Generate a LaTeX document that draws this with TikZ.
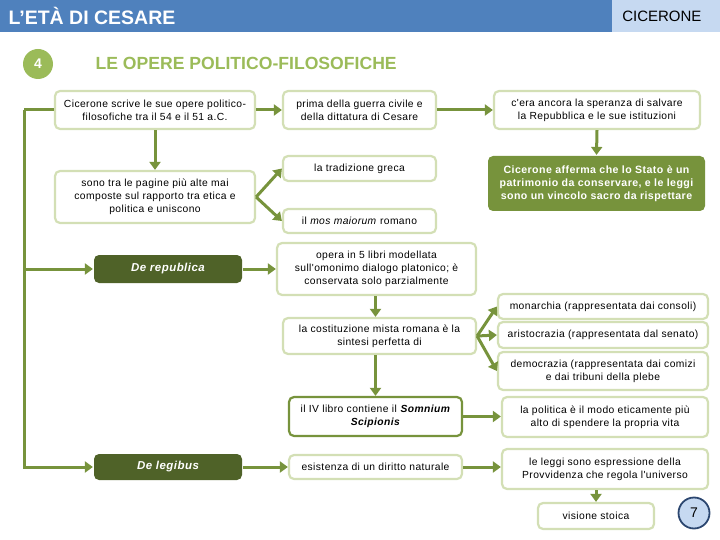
\documentclass[tikz,border=0pt]{standalone}
\usepackage{fontspec}
\setmainfont{Liberation Sans}
\newfontfamily\boxfont[LetterSpace=4]{Liberation Sans}
\usetikzlibrary{arrows.meta}
\definecolor{headblue}{HTML}{4F81BD}
\definecolor{headlight}{HTML}{C6D9F1}
\definecolor{titlegreen}{HTML}{9BBB59}
\definecolor{boxline}{HTML}{D3DFB5}
\definecolor{darkolive}{HTML}{4F6228}
\definecolor{olive}{HTML}{77933C}
\definecolor{navy}{HTML}{2C4770}

\tikzset{
  box/.style={draw=boxline,line width=2.2pt,rounded corners=5pt,fill=white,align=center,
    inner sep=2pt,font=\boxfont\fontsize{10.3}{13}\selectfont},
  strongbox/.style={box,draw=olive},
  darkbox/.style={box,draw=none,fill=darkolive,text=white,font=\boxfont\fontsize{11.5}{13}\selectfont\bfseries\itshape},
  greenbox/.style={box,draw=none,fill=olive,text=white,font=\boxfont\fontsize{10.6}{13}\selectfont\bfseries},
  link/.style={olive,line width=3pt,-{Triangle[length=8pt,width=11pt]}},
  bare/.style={olive,line width=3pt}
}

\begin{document}
\begin{tikzpicture}[x=1pt,y=-1pt]
  \useasboundingbox (0,0) rectangle (720,540);
  % header band
  \fill[headblue] (0,0) rectangle (612,32);
  \fill[headlight] (612,0) rectangle (720,32);
  \node[anchor=west,text=white,font=\fontsize{19.5}{19.5}\selectfont\bfseries] (era) at (5,16) {L’ETÀ DI CESARE};
  \node[anchor=east,font=\fontsize{15}{15}\selectfont] (autore) at (705,16) {CICERONE};
  \node[circle,fill=titlegreen,text=white,minimum size=30pt,inner sep=0pt,font=\fontsize{14}{14}\selectfont\bfseries] (num) at (38,64) {4};
  \node[anchor=west,text=titlegreen,font=\fontsize{17.6}{17.6}\selectfont\bfseries] (titolo) at (92,63) {LE OPERE POLITICO-FILOSOFICHE};

  % first column
  \node[box,minimum width=200pt,minimum height=38pt] (scrive) at (155,110) {Cicerone scrive le sue opere politico-\\filosofiche tra il 54 e il 51 a.C.};
  \node[box,minimum width=200pt,minimum height=52pt] (pagine) at (155,197) {sono tra le pagine più alte mai\\composte sul rapporto tra etica e\\politica e uniscono};
  \node[darkbox,minimum width=148pt,minimum height=28pt] (rep) at (168,269) {De republica};
  \node[darkbox,minimum width=148pt,minimum height=26pt] (leg) at (168,467) {De legibus};

  % second column
  \node[box,minimum width=153pt,minimum height=38pt] (prima) at (359.5,110) {prima della guerra civile e\\della dittatura di Cesare};
  \node[box,minimum width=153pt,minimum height=25pt] (greca) at (359.5,168.5) {la tradizione greca};
  \node[box,minimum width=153pt,minimum height=24pt] (mos) at (359.5,221) {il \textit{mos maiorum} romano};
  \node[box,minimum width=199pt,minimum height=52pt] (opera) at (376.5,269) {opera in 5 libri modellata\\sull'omonimo dialogo platonico; è\\conservata solo parzialmente};
  \node[box,minimum width=193pt,minimum height=36pt] (mista) at (379.5,336) {la costituzione mista romana è la\\sintesi perfetta di};
  \node[strongbox,minimum width=173pt,minimum height=39pt] (somnium) at (375.5,416.5) {il IV libro contiene il \textbf{\textit{Somnium}}\\\textbf{\textit{Scipionis}}};
  \node[box,minimum width=173pt,minimum height=24pt] (diritto) at (375.5,467) {esistenza di un diritto naturale};

  % third column
  \node[box,minimum width=206pt,minimum height=38pt] (speranza) at (597,110) {c'era ancora la speranza di salvare\\la Repubblica e le sue istituzioni};
  \node[greenbox,minimum width=217pt,minimum height=55pt] (stato) at (596.5,183.5) {Cicerone afferma che lo Stato è un\\patrimonio da conservare, e le leggi\\sono un vincolo sacro da rispettare};
  \node[box,minimum width=210pt,minimum height=25pt] (monarchia) at (603,306.5) {monarchia (rappresentata dai consoli)};
  \node[box,minimum width=210pt,minimum height=26pt] (aristo) at (603,335) {aristocrazia (rappresentata dal senato)};
  \node[box,minimum width=210pt,minimum height=38pt] (demo) at (603,371) {democrazia (rappresentata dai comizi\\e dai tribuni della plebe};
  \node[box,minimum width=206pt,minimum height=40pt] (politica) at (605,417) {la politica è il modo eticamente più\\alto di spendere la propria vita};
  \node[box,minimum width=206pt,minimum height=40pt] (provv) at (605,469) {le leggi sono espressione della\\Provvidenza che regola l'universo};
  \node[box,minimum width=116pt,minimum height=26pt] (stoica) at (596,516) {visione stoica};
  \node[circle,draw=navy,line width=1.8pt,fill=headlight,minimum size=31pt,inner sep=0pt,font=\fontsize{14}{14}\selectfont] (pag) at (694,513) {7};

  % connectors
  \coordinate (rail) at (24,110);
  \draw[bare] (scrive.west) -- (rail);
  \draw[link] (rail) |- (leg.west);
  \draw[link] (rail |- rep.west) -- (rep.west);
  \draw[link] (scrive.east) -- (prima.west);
  \draw[link] (scrive.south) -- (pagine.north);
  \draw[link] (pagine.east) -- (greca.west);
  \draw[link] (pagine.east) -- (mos.west);
  \draw[link] (prima.east) -- (speranza.west);
  \draw[link] (speranza.south) -- (stato.north);
  \draw[link] (rep.east) -- (opera.west);
  \draw[link] (opera.south -| mista.north) ++(-4,0) coordinate (op) -- (op |- mista.north);
  \draw[link] (mista.east) -- (monarchia.west);
  \draw[link] (mista.east) -- (aristo.west);
  \draw[link] (mista.east) -- (demo.west);
  \draw[link] (somnium.north |- mista.south) -- (somnium.north);
  \draw[link] (somnium.east) -- (politica.west |- somnium.east);
  \draw[link] (leg.east) -- (diritto.west);
  \draw[link] (diritto.east) -- (provv.west |- diritto.east);
  \draw[link] (provv.south -| stoica.north) -- (stoica.north);
\end{tikzpicture}
\end{document}
